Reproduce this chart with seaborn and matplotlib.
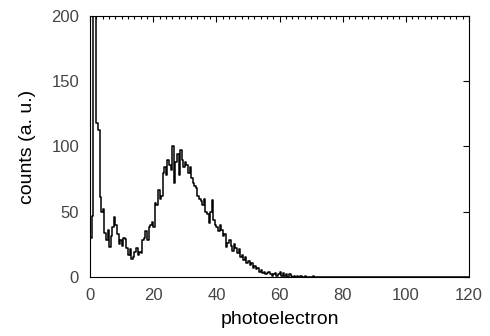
import numpy as np
import pandas as pd
import matplotlib
matplotlib.use("Agg")
import matplotlib.pyplot as plt
from matplotlib.ticker import MultipleLocator
import seaborn as sns

# histogram of photoelectron counts, bin width 0.5
bin_width = 0.5
counts_low = [
    30, 47, 260, 260, 118, 113, 61, 50, 52, 34,      # 0 - 4.5
    28, 36, 23, 31, 38, 46, 40, 33, 25, 28,          # 5 - 9.5
    24, 30, 29, 22, 17, 21, 14, 15, 19, 22,          # 10 - 14.5
    17, 19, 18, 28, 30, 35, 28, 38, 40, 42,          # 15 - 19.5
    38, 57, 55, 67, 60, 62, 80, 84, 78, 90,          # 20 - 24.5
    86, 82, 100, 72, 88, 94, 78, 97, 90, 84,         # 25 - 29.5
    88, 86, 80, 84, 76, 72, 70, 68, 62, 60,          # 30 - 34.5
    58, 55, 60, 50, 48, 41, 50, 59, 44, 40,          # 35 - 39.5
    38, 35, 40, 36, 31, 33, 23, 26, 28, 24,          # 40 - 44.5
    20, 25, 22, 18, 21, 15, 17, 13, 15, 11,          # 45 - 49.5
    12, 9, 11, 7, 8, 6, 7, 4, 5, 3,                  # 50 - 54.5
    4, 2, 3, 4, 2, 1, 2, 3, 1, 2,                    # 55 - 59.5
    4, 1, 3, 1, 2, 0, 2, 1, 0, 1,                    # 60 - 64.5
    0, 1, 0, 1, 0, 0, 1, 0, 0, 0,                    # 65 - 69.5
    0, 1, 0, 0, 0, 0, 0, 0, 0, 0,                    # 70 - 74.5
]
counts = counts_low + [0] * (240 - len(counts_low))   # empty up to 120

centers = np.arange(len(counts)) * bin_width + bin_width / 2
df = pd.DataFrame({"photoelectron": centers, "counts": counts})

x_ticks = [0, 20, 40, 60, 80, 100, 120]
y_ticks = [0, 50, 100, 150, 200]

sns.set_theme(style="white")
plt.rcParams["font.family"] = ["Liberation Sans", "DejaVu Sans"]

fig = plt.figure(figsize=(4.9, 3.36), dpi=100)
ax = fig.add_axes([0.184, 0.176, 0.773, 0.776])

sns.histplot(data=df, x="photoelectron", weights="counts",
             binwidth=bin_width, binrange=(0, 120),
             element="step", fill=False, color="black", linewidth=1.1, ax=ax)

ax.set_xlim(0, 120)
ax.set_ylim(0, 200)
ax.set_xticks(x_ticks)
ax.set_yticks(y_ticks)
ax.xaxis.set_minor_locator(MultipleLocator(2))
ax.tick_params(which="both", direction="in", top=True, right=True,
               colors="black", labelcolor="#444444", labelsize=12, pad=8)
ax.tick_params(which="major", length=4, width=0.8)
ax.tick_params(which="minor", length=2, width=0.8)
ax.tick_params(axis="y", which="minor", left=False, right=False)

for side in ax.spines.values():
    side.set_color("black")
    side.set_linewidth(0.8)

ax.set_xlabel("photoelectron", fontsize=14, color="black", labelpad=6)
ax.set_ylabel("counts (a. u.)", fontsize=14, color="black", labelpad=11)

fig.savefig("out.png", dpi=100)
